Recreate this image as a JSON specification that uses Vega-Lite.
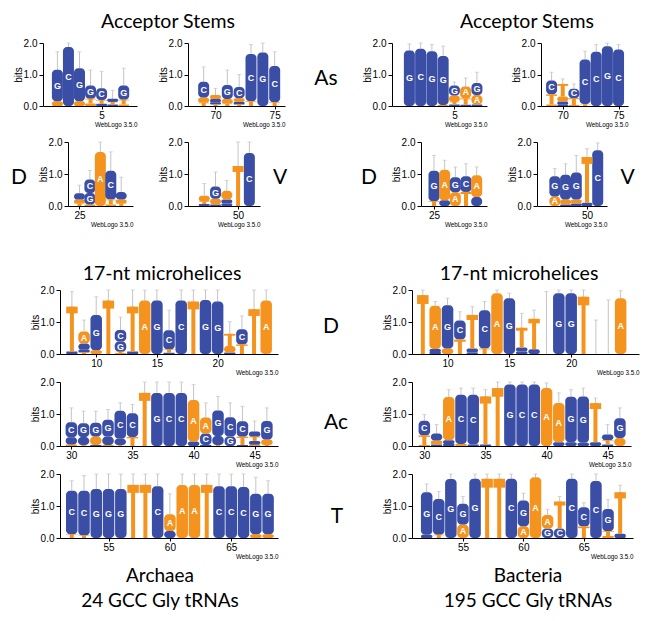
{
"$schema":"https://vega.github.io/schema/vega-lite/v6.json",
"padding":0,
"background":"white",
"spacing":0,
"config":{
 "view":{"stroke":null},
 "axis":{"grid":false,"domainColor":"#000","tickColor":"#000","labelColor":"#000","titleColor":"#000","labelFont":"Liberation Sans","titleFont":"Liberation Sans","labelFontSize":10,"titleFontWeight":"normal","domainWidth":1,"tickWidth":1},
 "axisX":{"tickSize":3,"labelPadding":1,"labelFlush":false,"titleFontSize":6.3,"titleAnchor":"end","titlePadding":1},
 "axisY":{"tickSize":4,"labelPadding":2,"titleFontSize":10,"titlePadding":0}
},
"datasets":{"logo":[
{"p":"aA1","x":1,"b":"A","h":0.15},{"p":"aA1","x":1,"b":"G","h":1.0,"e":1.72},
{"p":"aA1","x":2,"b":"C","h":1.87,"e":2.0},
{"p":"aA1","x":3,"b":"A","h":0.15},{"p":"aA1","x":3,"b":"G","h":1.05,"e":1.72},
{"p":"aA1","x":4,"b":"A","h":0.08},{"p":"aA1","x":4,"b":"T","h":0.15},{"p":"aA1","x":4,"b":"G","h":0.42,"e":1.14},
{"p":"aA1","x":5,"b":"G","h":0.07},{"p":"aA1","x":5,"b":"T","h":0.12},{"p":"aA1","x":5,"b":"C","h":0.37,"e":1.1},
{"p":"aA1","x":6,"b":"G","h":0.05},{"p":"aA1","x":6,"b":"T","h":0.08},{"p":"aA1","x":6,"b":"C","h":0.1,"e":0.5},
{"p":"aA1","x":7,"b":"A","h":0.05},{"p":"aA1","x":7,"b":"T","h":0.15},{"p":"aA1","x":7,"b":"G","h":0.45,"e":1.2},
{"p":"aA2","x":69,"b":"T","h":0.1},{"p":"aA2","x":69,"b":"A","h":0.17},{"p":"aA2","x":69,"b":"C","h":0.5,"e":1.24},
{"p":"aA2","x":70,"b":"T","h":0.05},{"p":"aA2","x":70,"b":"G","h":0.07},{"p":"aA2","x":70,"b":"C","h":0.1},{"p":"aA2","x":70,"b":"A","h":0.13,"e":0.56},
{"p":"aA2","x":71,"b":"T","h":0.07},{"p":"aA2","x":71,"b":"A","h":0.15},{"p":"aA2","x":71,"b":"G","h":0.45,"e":1.14},
{"p":"aA2","x":72,"b":"T","h":0.05},{"p":"aA2","x":72,"b":"G","h":0.08},{"p":"aA2","x":72,"b":"A","h":0.12},{"p":"aA2","x":72,"b":"C","h":0.35,"e":1.0},
{"p":"aA2","x":73,"b":"T","h":0.15},{"p":"aA2","x":73,"b":"C","h":1.5,"e":1.95},
{"p":"aA2","x":74,"b":"G","h":1.7,"e":2.0},
{"p":"aA2","x":75,"b":"T","h":0.12},{"p":"aA2","x":75,"b":"C","h":1.15,"e":1.72},
{"p":"aD","x":25,"b":"T","h":0.08},{"p":"aD","x":25,"b":"A","h":0.12},{"p":"aD","x":25,"b":"G","h":0.2,"e":0.65},
{"p":"aD","x":26,"b":"A","h":0.05},{"p":"aD","x":26,"b":"G","h":0.36},{"p":"aD","x":26,"b":"C","h":0.42,"e":1.11},
{"p":"aD","x":27,"b":"A","h":1.69,"e":2.0},
{"p":"aD","x":28,"b":"A","h":0.05},{"p":"aD","x":28,"b":"T","h":0.15},{"p":"aD","x":28,"b":"C","h":0.9,"e":1.69},
{"p":"aD","x":29,"b":"T","h":0.08},{"p":"aD","x":29,"b":"A","h":0.12},{"p":"aD","x":29,"b":"G","h":0.24,"e":0.9},
{"p":"aV","x":47,"b":"C","h":0.06},{"p":"aV","x":47,"b":"T","h":0.08},{"p":"aV","x":47,"b":"A","h":0.18,"e":0.7},
{"p":"aV","x":48,"b":"C","h":0.05},{"p":"aV","x":48,"b":"A","h":0.18},{"p":"aV","x":48,"b":"G","h":0.38,"e":1.06},
{"p":"aV","x":49,"b":"G","h":0.08},{"p":"aV","x":49,"b":"C","h":0.12},{"p":"aV","x":49,"b":"A","h":0.28,"e":0.8},
{"p":"aV","x":50,"b":"T","h":1.25,"e":2.0},
{"p":"aV","x":51,"b":"C","h":1.66,"e":2.0},
{"p":"bA1","x":1,"b":"G","h":1.76,"e":1.97},
{"p":"bA1","x":2,"b":"C","h":1.82,"e":2.0},
{"p":"bA1","x":3,"b":"G","h":1.74,"e":1.95},
{"p":"bA1","x":4,"b":"A","h":0.03},{"p":"bA1","x":4,"b":"G","h":1.56,"e":1.9},
{"p":"bA1","x":5,"b":"C","h":0.05},{"p":"bA1","x":5,"b":"T","h":0.08},{"p":"bA1","x":5,"b":"A","h":0.2},{"p":"bA1","x":5,"b":"G","h":0.32,"e":0.76},
{"p":"bA1","x":6,"b":"C","h":0.04},{"p":"bA1","x":6,"b":"T","h":0.2},{"p":"bA1","x":6,"b":"A","h":0.38,"e":0.89},
{"p":"bA1","x":7,"b":"C","h":0.05},{"p":"bA1","x":7,"b":"A","h":0.3},{"p":"bA1","x":7,"b":"G","h":0.38,"e":1.07},
{"p":"bA2","x":69,"b":"A","h":0.05},{"p":"bA2","x":69,"b":"T","h":0.32},{"p":"bA2","x":69,"b":"C","h":0.44,"e":1.07},
{"p":"bA2","x":70,"b":"C","h":0.04},{"p":"bA2","x":70,"b":"G","h":0.1},{"p":"bA2","x":70,"b":"A","h":0.16},{"p":"bA2","x":70,"b":"T","h":0.4,"e":0.86},
{"p":"bA2","x":71,"b":"A","h":0.03},{"p":"bA2","x":71,"b":"T","h":0.22},{"p":"bA2","x":71,"b":"C","h":0.3,"e":0.7},
{"p":"bA2","x":72,"b":"T","h":0.06},{"p":"bA2","x":72,"b":"C","h":1.42,"e":1.74},
{"p":"bA2","x":73,"b":"C","h":1.72,"e":1.95},
{"p":"bA2","x":74,"b":"G","h":1.9,"e":2.0},
{"p":"bA2","x":75,"b":"C","h":1.79,"e":1.95},
{"p":"bD","x":25,"b":"T","h":0.15},{"p":"bD","x":25,"b":"G","h":0.95,"e":1.58},
{"p":"bD","x":26,"b":"C","h":0.18},{"p":"bD","x":26,"b":"A","h":0.95,"e":1.43},
{"p":"bD","x":27,"b":"A","h":0.43},{"p":"bD","x":27,"b":"G","h":0.47,"e":1.22},
{"p":"bD","x":28,"b":"T","h":0.44},{"p":"bD","x":28,"b":"C","h":0.49,"e":1.32},
{"p":"bD","x":29,"b":"G","h":0.28},{"p":"bD","x":29,"b":"A","h":0.68,"e":1.22},
{"p":"bV","x":47,"b":"A","h":0.3},{"p":"bV","x":47,"b":"G","h":0.63,"e":1.17},
{"p":"bV","x":48,"b":"C","h":0.05},{"p":"bV","x":48,"b":"A","h":0.15},{"p":"bV","x":48,"b":"G","h":0.78,"e":1.32},
{"p":"bV","x":49,"b":"C","h":0.08},{"p":"bV","x":49,"b":"A","h":0.12},{"p":"bV","x":49,"b":"G","h":0.85,"e":1.58},
{"p":"bV","x":50,"b":"G","h":0.1},{"p":"bV","x":50,"b":"T","h":1.43,"e":1.79},
{"p":"bV","x":51,"b":"C","h":1.74,"e":1.97},
{"p":"aMD","x":8,"b":"C","h":0.03},{"p":"aMD","x":8,"b":"G","h":0.05},{"p":"aMD","x":8,"b":"T","h":1.4,"e":1.95},
{"p":"aMD","x":9,"b":"T","h":0.05},{"p":"aMD","x":9,"b":"C","h":0.08},{"p":"aMD","x":9,"b":"G","h":0.2},{"p":"aMD","x":9,"b":"A","h":0.37,"e":1.06},
{"p":"aMD","x":10,"b":"A","h":0.12},{"p":"aMD","x":10,"b":"G","h":1.1,"e":1.79},
{"p":"aMD","x":11,"b":"T","h":1.67,"e":2.0},
{"p":"aMD","x":12,"b":"A","h":0.03},{"p":"aMD","x":12,"b":"T","h":0.04},{"p":"aMD","x":12,"b":"G","h":0.32},{"p":"aMD","x":12,"b":"C","h":0.36,"e":1.15},
{"p":"aMD","x":13,"b":"G","h":0.03},{"p":"aMD","x":13,"b":"C","h":0.05},{"p":"aMD","x":13,"b":"T","h":1.4,"e":2.0},
{"p":"aMD","x":14,"b":"A","h":1.67,"e":2.0},
{"p":"aMD","x":15,"b":"G","h":1.67,"e":2.0},
{"p":"aMD","x":16,"b":"G","h":0.04},{"p":"aMD","x":16,"b":"T","h":0.1},{"p":"aMD","x":16,"b":"C","h":0.6,"e":1.37},
{"p":"aMD","x":17,"b":"C","h":1.67,"e":2.0},
{"p":"aMD","x":18,"b":"T","h":1.64,"e":2.0},
{"p":"aMD","x":19,"b":"G","h":1.69,"e":2.0},
{"p":"aMD","x":20,"b":"G","h":1.64,"e":2.0},
{"p":"aMD","x":21,"b":"C","h":0.05},{"p":"aMD","x":21,"b":"A","h":0.2},{"p":"aMD","x":21,"b":"T","h":0.38,"e":1.01},
{"p":"aMD","x":22,"b":"T","h":0.3},{"p":"aMD","x":22,"b":"C","h":0.47,"e":1.19},
{"p":"aMD","x":23,"b":"T","h":1.4,"e":2.0},
{"p":"aMD","x":24,"b":"A","h":1.67,"e":2.0},
{"p":"bMD","x":8,"b":"T","h":1.84,"e":2.0},
{"p":"bMD","x":9,"b":"G","h":0.06},{"p":"bMD","x":9,"b":"C","h":0.1},{"p":"bMD","x":9,"b":"A","h":1.35,"e":1.64},
{"p":"bMD","x":10,"b":"A","h":0.17},{"p":"bMD","x":10,"b":"G","h":1.35,"e":1.74},
{"p":"bMD","x":11,"b":"T","h":0.45},{"p":"bMD","x":11,"b":"C","h":0.6,"e":1.32},
{"p":"bMD","x":12,"b":"C","h":0.05},{"p":"bMD","x":12,"b":"G","h":0.12},{"p":"bMD","x":12,"b":"T","h":1.05,"e":1.48},
{"p":"bMD","x":13,"b":"T","h":0.17},{"p":"bMD","x":13,"b":"C","h":1.2,"e":1.64},
{"p":"bMD","x":14,"b":"A","h":1.9,"e":2.0},
{"p":"bMD","x":15,"b":"G","h":1.74,"e":1.9},
{"p":"bMD","x":16,"b":"G","h":0.08},{"p":"bMD","x":16,"b":"C","h":0.12},{"p":"bMD","x":16,"b":"T","h":0.62,"e":1.27},
{"p":"bMD","x":17,"b":"C","h":0.15},{"p":"bMD","x":17,"b":"T","h":0.95,"e":1.37},
{"p":"bMD","x":18,"b":"T","h":0.0,"e":1.95},
{"p":"bMD","x":19,"b":"G","h":1.9,"e":2.0},
{"p":"bMD","x":20,"b":"G","h":1.9,"e":2.0},
{"p":"bMD","x":21,"b":"T","h":1.79,"e":2.0},
{"p":"bMD","x":22,"b":"T","h":0.0,"e":1.06},
{"p":"bMD","x":23,"b":"T","h":0.0,"e":1.69},
{"p":"bMD","x":24,"b":"A","h":1.74,"e":1.98},
{"p":"aMA","x":30,"b":"A","h":0.05},{"p":"aMA","x":30,"b":"G","h":0.22},{"p":"aMA","x":30,"b":"C","h":0.47,"e":1.19},
{"p":"aMA","x":31,"b":"T","h":0.03},{"p":"aMA","x":31,"b":"C","h":0.25},{"p":"aMA","x":31,"b":"G","h":0.43,"e":1.09},
{"p":"aMA","x":32,"b":"C","h":0.03},{"p":"aMA","x":32,"b":"A","h":0.27},{"p":"aMA","x":32,"b":"G","h":0.43,"e":1.09},
{"p":"aMA","x":33,"b":"A","h":0.03},{"p":"aMA","x":33,"b":"C","h":0.27},{"p":"aMA","x":33,"b":"G","h":0.52,"e":1.14},
{"p":"aMA","x":34,"b":"T","h":0.03},{"p":"aMA","x":34,"b":"G","h":0.2},{"p":"aMA","x":34,"b":"C","h":0.87,"e":1.35},
{"p":"aMA","x":35,"b":"T","h":0.28},{"p":"aMA","x":35,"b":"C","h":0.74,"e":1.3},
{"p":"aMA","x":36,"b":"T","h":1.66,"e":2.0},
{"p":"aMA","x":37,"b":"G","h":1.66,"e":2.0},
{"p":"aMA","x":38,"b":"C","h":1.66,"e":2.0},
{"p":"aMA","x":39,"b":"C","h":1.66,"e":2.0},
{"p":"aMA","x":40,"b":"G","h":0.14},{"p":"aMA","x":40,"b":"A","h":1.3,"e":1.92},
{"p":"aMA","x":41,"b":"G","h":0.03},{"p":"aMA","x":41,"b":"C","h":0.36},{"p":"aMA","x":41,"b":"A","h":0.5,"e":1.35},
{"p":"aMA","x":42,"b":"T","h":0.03},{"p":"aMA","x":42,"b":"C","h":0.28},{"p":"aMA","x":42,"b":"G","h":0.8,"e":1.55},
{"p":"aMA","x":43,"b":"G","h":0.3},{"p":"aMA","x":43,"b":"C","h":0.6,"e":1.35},
{"p":"aMA","x":44,"b":"G","h":0.03},{"p":"aMA","x":44,"b":"T","h":0.26},{"p":"aMA","x":44,"b":"C","h":0.48,"e":1.24},
{"p":"aMA","x":45,"b":"A","h":0.04},{"p":"aMA","x":45,"b":"G","h":0.12},{"p":"aMA","x":45,"b":"T","h":0.13},{"p":"aMA","x":45,"b":"C","h":0.16,"e":0.78},
{"p":"aMA","x":46,"b":"T","h":0.03},{"p":"aMA","x":46,"b":"A","h":0.17},{"p":"aMA","x":46,"b":"G","h":0.58,"e":1.19},
{"p":"bMA","x":30,"b":"A","h":0.03},{"p":"bMA","x":30,"b":"T","h":0.3},{"p":"bMA","x":30,"b":"C","h":0.46,"e":0.98},
{"p":"bMA","x":31,"b":"G","h":0.05},{"p":"bMA","x":31,"b":"A","h":0.12},{"p":"bMA","x":31,"b":"C","h":0.22,"e":0.67},
{"p":"bMA","x":32,"b":"G","h":0.06},{"p":"bMA","x":32,"b":"C","h":0.12},{"p":"bMA","x":32,"b":"A","h":1.35,"e":1.76},
{"p":"bMA","x":33,"b":"A","h":0.06},{"p":"bMA","x":33,"b":"C","h":1.54,"e":1.81},
{"p":"bMA","x":34,"b":"G","h":0.05},{"p":"bMA","x":34,"b":"C","h":1.55,"e":1.81},
{"p":"bMA","x":35,"b":"C","h":0.05},{"p":"bMA","x":35,"b":"T","h":1.5,"e":1.76},
{"p":"bMA","x":36,"b":"T","h":1.81,"e":2.0},
{"p":"bMA","x":37,"b":"G","h":1.92,"e":2.0},
{"p":"bMA","x":38,"b":"C","h":1.92,"e":2.0},
{"p":"bMA","x":39,"b":"C","h":1.92,"e":2.0},
{"p":"bMA","x":40,"b":"A","h":1.81,"e":1.97},
{"p":"bMA","x":41,"b":"C","h":0.12},{"p":"bMA","x":41,"b":"A","h":1.22,"e":1.66},
{"p":"bMA","x":42,"b":"C","h":0.12},{"p":"bMA","x":42,"b":"G","h":1.42,"e":1.76},
{"p":"bMA","x":43,"b":"C","h":0.1},{"p":"bMA","x":43,"b":"G","h":1.45,"e":1.81},
{"p":"bMA","x":44,"b":"C","h":0.12},{"p":"bMA","x":44,"b":"T","h":1.22,"e":1.5},
{"p":"bMA","x":45,"b":"G","h":0.05},{"p":"bMA","x":45,"b":"T","h":0.13},{"p":"bMA","x":45,"b":"C","h":0.18,"e":0.67},
{"p":"bMA","x":46,"b":"A","h":0.25},{"p":"bMA","x":46,"b":"G","h":0.62,"e":1.19},
{"p":"aMT","x":52,"b":"T","h":0.12},{"p":"aMT","x":52,"b":"C","h":1.36,"e":1.79},
{"p":"aMT","x":53,"b":"T","h":0.08},{"p":"aMT","x":53,"b":"C","h":1.4,"e":1.95},
{"p":"aMT","x":54,"b":"G","h":1.53,"e":2.0},
{"p":"aMT","x":55,"b":"G","h":1.53,"e":2.0},
{"p":"aMT","x":56,"b":"G","h":1.53,"e":2.0},
{"p":"aMT","x":57,"b":"T","h":1.66,"e":2.0},
{"p":"aMT","x":58,"b":"T","h":1.66,"e":2.0},
{"p":"aMT","x":59,"b":"C","h":1.62,"e":2.0},
{"p":"aMT","x":60,"b":"G","h":0.22},{"p":"aMT","x":60,"b":"A","h":0.52,"e":1.38},
{"p":"aMT","x":61,"b":"A","h":1.66,"e":2.0},
{"p":"aMT","x":62,"b":"A","h":1.66,"e":2.0},
{"p":"aMT","x":63,"b":"T","h":1.66,"e":2.0},
{"p":"aMT","x":64,"b":"C","h":1.62,"e":2.0},
{"p":"aMT","x":65,"b":"C","h":1.62,"e":2.0},
{"p":"aMT","x":66,"b":"C","h":1.59,"e":2.0},
{"p":"aMT","x":67,"b":"A","h":0.12},{"p":"aMT","x":67,"b":"G","h":1.26,"e":1.9},
{"p":"aMT","x":68,"b":"A","h":0.12},{"p":"aMT","x":68,"b":"G","h":1.26,"e":1.79},
{"p":"bMT","x":52,"b":"C","h":0.1},{"p":"bMT","x":52,"b":"G","h":1.33,"e":1.69},
{"p":"bMT","x":53,"b":"T","h":0.1},{"p":"bMT","x":53,"b":"C","h":1.12,"e":1.45},
{"p":"bMT","x":54,"b":"G","h":1.84,"e":2.0},
{"p":"bMT","x":55,"b":"A","h":0.42},{"p":"bMT","x":55,"b":"G","h":0.65,"e":1.3},
{"p":"bMT","x":56,"b":"G","h":1.85,"e":2.0},
{"p":"bMT","x":57,"b":"T","h":1.85,"e":2.0},
{"p":"bMT","x":58,"b":"T","h":1.85,"e":2.0},
{"p":"bMT","x":59,"b":"C","h":1.85,"e":2.0},
{"p":"bMT","x":60,"b":"A","h":0.37},{"p":"bMT","x":60,"b":"G","h":0.8,"e":1.4},
{"p":"bMT","x":61,"b":"A","h":1.9,"e":2.0},
{"p":"bMT","x":62,"b":"G","h":0.3},{"p":"bMT","x":62,"b":"A","h":0.42,"e":0.9},
{"p":"bMT","x":63,"b":"C","h":0.3},{"p":"bMT","x":63,"b":"T","h":0.84,"e":1.3},
{"p":"bMT","x":64,"b":"C","h":1.85,"e":2.0},
{"p":"bMT","x":65,"b":"T","h":0.36},{"p":"bMT","x":65,"b":"C","h":0.6,"e":1.1},
{"p":"bMT","x":66,"b":"C","h":1.78,"e":2.0},
{"p":"bMT","x":67,"b":"A","h":0.06},{"p":"bMT","x":67,"b":"T","h":0.15},{"p":"bMT","x":67,"b":"G","h":0.7,"e":1.2},
{"p":"bMT","x":68,"b":"G","h":0.13},{"p":"bMT","x":68,"b":"T","h":1.3,"e":1.65}
]},
"vconcat":[
{"spacing":0,"bounds":"flush","hconcat":[
 {"width":336,"height":31,"data":{"values":[{"t":"Acceptor Stems"}]},"mark":{"type":"text","font":"Lato","fontSize":19.5,"dy":0.5},"encoding":{"text":{"field":"t"}}},
 {"width":70,"height":1,"data":{"values":[{}]},"mark":"text","encoding":{"text":{"value":""}}},
 {"width":242,"height":31,"data":{"values":[{"t":"Acceptor Stems"}]},"mark":{"type":"text","font":"Lato","fontSize":19.5,"dy":0.5},"encoding":{"text":{"field":"t"}}}
]},
{"spacing":0,"bounds":"flush","hconcat":[
 {"width":43,"height":93,"data":{"values":[{}]},"mark":"text","encoding":{"text":{"value":""}}},
 {"width":94,"height":63,"data":{"name":"logo"},
  "transform":[{"filter":"datum.p==='aA1'"},{"stack":"h","groupby":["x"],"sort":[{"field":"h","order":"ascending"}],"as":["y0","y1"]},{"calculate":"(datum.y0+datum.y1)/2","as":"ym"},{"calculate":"datum.y1-0.15*(datum.y1-datum.y0)","as":"tb"}],
  "encoding":{"x":{"field":"x","type":"quantitative","scale":{"domain":[0.15,7.75],"nice":false,"zero":false},"axis":{"values":[5],"format":"d","title":"WebLogo 3.5.0"}}},
  "layer":[
   {"transform":[{"filter":"isValid(datum.e)"}],"mark":{"type":"rule","color":"#c4c4c4"},"encoding":{"y":{"field":"y1","type":"quantitative","scale":{"domain":[0,2],"nice":false},"axis":{"values":[0,1,2],"format":".1f","title":"bits"}},"y2":{"field":"e"}}},
   {"transform":[{"filter":"isValid(datum.e)"}],"mark":{"type":"tick","orient":"horizontal","color":"#c4c4c4","size":4,"thickness":1},"encoding":{"y":{"field":"e","type":"quantitative","scale":{"domain":[0,2],"nice":false},"axis":{"values":[0,1,2],"format":".1f","title":"bits"}}}},
   {"transform":[{"filter":"datum.b!=='T'"}],"mark":{"type":"bar","size":11,"cornerRadius":4},"encoding":{"y":{"field":"y0","type":"quantitative","scale":{"domain":[0,2],"nice":false},"axis":{"values":[0,1,2],"format":".1f","title":"bits"}},"y2":{"field":"y1"},"color":{"field":"b","type":"nominal","scale":{"domain":["A","C","G"],"range":["#f4941f","#3a4ea6","#3a4ea6"]},"legend":null}}},
   {"transform":[{"filter":"datum.b==='T'"}],"mark":{"type":"bar","size":4,"color":"#f4941f"},"encoding":{"y":{"field":"y0","type":"quantitative","scale":{"domain":[0,2],"nice":false},"axis":{"values":[0,1,2],"format":".1f","title":"bits"}},"y2":{"field":"y1"}}},
   {"transform":[{"filter":"datum.b==='T'"}],"mark":{"type":"bar","size":11,"color":"#f4941f"},"encoding":{"y":{"field":"tb","type":"quantitative","scale":{"domain":[0,2],"nice":false},"axis":{"values":[0,1,2],"format":".1f","title":"bits"}},"y2":{"field":"y1"}}},
   {"transform":[{"filter":"datum.h>=0.3 && datum.b!=='T'"}],"mark":{"type":"text","color":"white","fontSize":9,"fontWeight":"bold","font":"Liberation Sans"},"encoding":{"y":{"field":"ym","type":"quantitative","scale":{"domain":[0,2],"nice":false},"axis":{"values":[0,1,2],"format":".1f","title":"bits"}},"text":{"field":"b"}}}
  ]},
 {"width":51,"height":1,"data":{"values":[{}]},"mark":"text","encoding":{"text":{"value":""}}},
 {"width":97,"height":63,"data":{"name":"logo"},
  "transform":[{"filter":"datum.p==='aA2'"},{"stack":"h","groupby":["x"],"sort":[{"field":"h","order":"ascending"}],"as":["y0","y1"]},{"calculate":"(datum.y0+datum.y1)/2","as":"ym"},{"calculate":"datum.y1-0.15*(datum.y1-datum.y0)","as":"tb"}],
  "encoding":{"x":{"field":"x","type":"quantitative","scale":{"domain":[68.1,75.45],"nice":false,"zero":false},"axis":{"values":[70,75],"format":"d","title":"WebLogo 3.5.0"}}},
  "layer":[
   {"transform":[{"filter":"isValid(datum.e)"}],"mark":{"type":"rule","color":"#c4c4c4"},"encoding":{"y":{"field":"y1","type":"quantitative","scale":{"domain":[0,2],"nice":false},"axis":{"values":[0,1,2],"format":".1f","title":"bits"}},"y2":{"field":"e"}}},
   {"transform":[{"filter":"isValid(datum.e)"}],"mark":{"type":"tick","orient":"horizontal","color":"#c4c4c4","size":4,"thickness":1},"encoding":{"y":{"field":"e","type":"quantitative","scale":{"domain":[0,2],"nice":false},"axis":{"values":[0,1,2],"format":".1f","title":"bits"}}}},
   {"transform":[{"filter":"datum.b!=='T'"}],"mark":{"type":"bar","size":11,"cornerRadius":4},"encoding":{"y":{"field":"y0","type":"quantitative","scale":{"domain":[0,2],"nice":false},"axis":{"values":[0,1,2],"format":".1f","title":"bits"}},"y2":{"field":"y1"},"color":{"field":"b","type":"nominal","scale":{"domain":["A","C","G"],"range":["#f4941f","#3a4ea6","#3a4ea6"]},"legend":null}}},
   {"transform":[{"filter":"datum.b==='T'"}],"mark":{"type":"bar","size":4,"color":"#f4941f"},"encoding":{"y":{"field":"y0","type":"quantitative","scale":{"domain":[0,2],"nice":false},"axis":{"values":[0,1,2],"format":".1f","title":"bits"}},"y2":{"field":"y1"}}},
   {"transform":[{"filter":"datum.b==='T'"}],"mark":{"type":"bar","size":11,"color":"#f4941f"},"encoding":{"y":{"field":"tb","type":"quantitative","scale":{"domain":[0,2],"nice":false},"axis":{"values":[0,1,2],"format":".1f","title":"bits"}},"y2":{"field":"y1"}}},
   {"transform":[{"filter":"datum.h>=0.3 && datum.b!=='T'"}],"mark":{"type":"text","color":"white","fontSize":9,"fontWeight":"bold","font":"Liberation Sans"},"encoding":{"y":{"field":"ym","type":"quantitative","scale":{"domain":[0,2],"nice":false},"axis":{"values":[0,1,2],"format":".1f","title":"bits"}},"text":{"field":"b"}}}
  ]},
 {"width":82,"height":63,"data":{"values":[{"t":"As"}]},"mark":{"type":"text","font":"Lato","fontSize":21,"dy":4.5},"encoding":{"text":{"field":"t"}}},
 {"width":25,"height":1,"data":{"values":[{}]},"mark":"text","encoding":{"text":{"value":""}}},
 {"width":95,"height":63,"data":{"name":"logo"},
  "transform":[{"filter":"datum.p==='bA1'"},{"stack":"h","groupby":["x"],"sort":[{"field":"h","order":"ascending"}],"as":["y0","y1"]},{"calculate":"(datum.y0+datum.y1)/2","as":"ym"},{"calculate":"datum.y1-0.15*(datum.y1-datum.y0)","as":"tb"}],
  "encoding":{"x":{"field":"x","type":"quantitative","scale":{"domain":[-0.1,7.45],"nice":false,"zero":false},"axis":{"values":[5],"format":"d","title":"WebLogo 3.5.0"}}},
  "layer":[
   {"transform":[{"filter":"isValid(datum.e)"}],"mark":{"type":"rule","color":"#c4c4c4"},"encoding":{"y":{"field":"y1","type":"quantitative","scale":{"domain":[0,2],"nice":false},"axis":{"values":[0,1,2],"format":".1f","title":"bits"}},"y2":{"field":"e"}}},
   {"transform":[{"filter":"isValid(datum.e)"}],"mark":{"type":"tick","orient":"horizontal","color":"#c4c4c4","size":4,"thickness":1},"encoding":{"y":{"field":"e","type":"quantitative","scale":{"domain":[0,2],"nice":false},"axis":{"values":[0,1,2],"format":".1f","title":"bits"}}}},
   {"transform":[{"filter":"datum.b!=='T'"}],"mark":{"type":"bar","size":11,"cornerRadius":4},"encoding":{"y":{"field":"y0","type":"quantitative","scale":{"domain":[0,2],"nice":false},"axis":{"values":[0,1,2],"format":".1f","title":"bits"}},"y2":{"field":"y1"},"color":{"field":"b","type":"nominal","scale":{"domain":["A","C","G"],"range":["#f4941f","#3a4ea6","#3a4ea6"]},"legend":null}}},
   {"transform":[{"filter":"datum.b==='T'"}],"mark":{"type":"bar","size":4,"color":"#f4941f"},"encoding":{"y":{"field":"y0","type":"quantitative","scale":{"domain":[0,2],"nice":false},"axis":{"values":[0,1,2],"format":".1f","title":"bits"}},"y2":{"field":"y1"}}},
   {"transform":[{"filter":"datum.b==='T'"}],"mark":{"type":"bar","size":11,"color":"#f4941f"},"encoding":{"y":{"field":"tb","type":"quantitative","scale":{"domain":[0,2],"nice":false},"axis":{"values":[0,1,2],"format":".1f","title":"bits"}},"y2":{"field":"y1"}}},
   {"transform":[{"filter":"datum.h>=0.3 && datum.b!=='T'"}],"mark":{"type":"text","color":"white","fontSize":9,"fontWeight":"bold","font":"Liberation Sans"},"encoding":{"y":{"field":"ym","type":"quantitative","scale":{"domain":[0,2],"nice":false},"axis":{"values":[0,1,2],"format":".1f","title":"bits"}},"text":{"field":"b"}}}
  ]},
 {"width":54,"height":1,"data":{"values":[{}]},"mark":"text","encoding":{"text":{"value":""}}},
 {"width":87,"height":63,"data":{"name":"logo"},
  "transform":[{"filter":"datum.p==='bA2'"},{"stack":"h","groupby":["x"],"sort":[{"field":"h","order":"ascending"}],"as":["y0","y1"]},{"calculate":"(datum.y0+datum.y1)/2","as":"ym"},{"calculate":"datum.y1-0.15*(datum.y1-datum.y0)","as":"tb"}],
  "encoding":{"x":{"field":"x","type":"quantitative","scale":{"domain":[68.5,75.4],"nice":false,"zero":false},"axis":{"values":[70,75],"format":"d","title":"WebLogo 3.5.0"}}},
  "layer":[
   {"transform":[{"filter":"isValid(datum.e)"}],"mark":{"type":"rule","color":"#c4c4c4"},"encoding":{"y":{"field":"y1","type":"quantitative","scale":{"domain":[0,2],"nice":false},"axis":{"values":[0,1,2],"format":".1f","title":"bits"}},"y2":{"field":"e"}}},
   {"transform":[{"filter":"isValid(datum.e)"}],"mark":{"type":"tick","orient":"horizontal","color":"#c4c4c4","size":4,"thickness":1},"encoding":{"y":{"field":"e","type":"quantitative","scale":{"domain":[0,2],"nice":false},"axis":{"values":[0,1,2],"format":".1f","title":"bits"}}}},
   {"transform":[{"filter":"datum.b!=='T'"}],"mark":{"type":"bar","size":11,"cornerRadius":4},"encoding":{"y":{"field":"y0","type":"quantitative","scale":{"domain":[0,2],"nice":false},"axis":{"values":[0,1,2],"format":".1f","title":"bits"}},"y2":{"field":"y1"},"color":{"field":"b","type":"nominal","scale":{"domain":["A","C","G"],"range":["#f4941f","#3a4ea6","#3a4ea6"]},"legend":null}}},
   {"transform":[{"filter":"datum.b==='T'"}],"mark":{"type":"bar","size":4,"color":"#f4941f"},"encoding":{"y":{"field":"y0","type":"quantitative","scale":{"domain":[0,2],"nice":false},"axis":{"values":[0,1,2],"format":".1f","title":"bits"}},"y2":{"field":"y1"}}},
   {"transform":[{"filter":"datum.b==='T'"}],"mark":{"type":"bar","size":11,"color":"#f4941f"},"encoding":{"y":{"field":"tb","type":"quantitative","scale":{"domain":[0,2],"nice":false},"axis":{"values":[0,1,2],"format":".1f","title":"bits"}},"y2":{"field":"y1"}}},
   {"transform":[{"filter":"datum.h>=0.3 && datum.b!=='T'"}],"mark":{"type":"text","color":"white","fontSize":9,"fontWeight":"bold","font":"Liberation Sans"},"encoding":{"y":{"field":"ym","type":"quantitative","scale":{"domain":[0,2],"nice":false},"axis":{"values":[0,1,2],"format":".1f","title":"bits"}},"text":{"field":"b"}}}
  ]}
]},
{"spacing":0,"bounds":"flush","hconcat":[
 {"width":38,"height":64,"data":{"values":[{"t":"D"}]},"mark":{"type":"text","font":"Lato","fontSize":21,"dy":3.5},"encoding":{"text":{"field":"t"}}},
 {"width":30,"height":107,"data":{"values":[{}]},"mark":"text","encoding":{"text":{"value":""}}},
 {"width":65,"height":64,"data":{"name":"logo"},
  "transform":[{"filter":"datum.p==='aD'"},{"stack":"h","groupby":["x"],"sort":[{"field":"h","order":"ascending"}],"as":["y0","y1"]},{"calculate":"(datum.y0+datum.y1)/2","as":"ym"},{"calculate":"datum.y1-0.15*(datum.y1-datum.y0)","as":"tb"}],
  "encoding":{"x":{"field":"x","type":"quantitative","scale":{"domain":[24.38,29.65],"nice":false,"zero":false},"axis":{"values":[25],"format":"d","title":"WebLogo 3.5.0"}}},
  "layer":[
   {"transform":[{"filter":"isValid(datum.e)"}],"mark":{"type":"rule","color":"#c4c4c4"},"encoding":{"y":{"field":"y1","type":"quantitative","scale":{"domain":[0,2],"nice":false},"axis":{"values":[0,1,2],"format":".1f","title":"bits"}},"y2":{"field":"e"}}},
   {"transform":[{"filter":"isValid(datum.e)"}],"mark":{"type":"tick","orient":"horizontal","color":"#c4c4c4","size":4,"thickness":1},"encoding":{"y":{"field":"e","type":"quantitative","scale":{"domain":[0,2],"nice":false},"axis":{"values":[0,1,2],"format":".1f","title":"bits"}}}},
   {"transform":[{"filter":"datum.b!=='T'"}],"mark":{"type":"bar","size":11,"cornerRadius":4},"encoding":{"y":{"field":"y0","type":"quantitative","scale":{"domain":[0,2],"nice":false},"axis":{"values":[0,1,2],"format":".1f","title":"bits"}},"y2":{"field":"y1"},"color":{"field":"b","type":"nominal","scale":{"domain":["A","C","G"],"range":["#f4941f","#3a4ea6","#3a4ea6"]},"legend":null}}},
   {"transform":[{"filter":"datum.b==='T'"}],"mark":{"type":"bar","size":4,"color":"#f4941f"},"encoding":{"y":{"field":"y0","type":"quantitative","scale":{"domain":[0,2],"nice":false},"axis":{"values":[0,1,2],"format":".1f","title":"bits"}},"y2":{"field":"y1"}}},
   {"transform":[{"filter":"datum.b==='T'"}],"mark":{"type":"bar","size":11,"color":"#f4941f"},"encoding":{"y":{"field":"tb","type":"quantitative","scale":{"domain":[0,2],"nice":false},"axis":{"values":[0,1,2],"format":".1f","title":"bits"}},"y2":{"field":"y1"}}},
   {"transform":[{"filter":"datum.h>=0.3 && datum.b!=='T'"}],"mark":{"type":"text","color":"white","fontSize":9,"fontWeight":"bold","font":"Liberation Sans"},"encoding":{"y":{"field":"ym","type":"quantitative","scale":{"domain":[0,2],"nice":false},"axis":{"values":[0,1,2],"format":".1f","title":"bits"}},"text":{"field":"b"}}}
  ]},
 {"width":55,"height":1,"data":{"values":[{}]},"mark":"text","encoding":{"text":{"value":""}}},
 {"width":72,"height":64,"data":{"name":"logo"},
  "transform":[{"filter":"datum.p==='aV'"},{"stack":"h","groupby":["x"],"sort":[{"field":"h","order":"ascending"}],"as":["y0","y1"]},{"calculate":"(datum.y0+datum.y1)/2","as":"ym"},{"calculate":"datum.y1-0.15*(datum.y1-datum.y0)","as":"tb"}],
  "encoding":{"x":{"field":"x","type":"quantitative","scale":{"domain":[46.0,51.5],"nice":false,"zero":false},"axis":{"values":[50],"format":"d","title":"WebLogo 3.5.0"}}},
  "layer":[
   {"transform":[{"filter":"isValid(datum.e)"}],"mark":{"type":"rule","color":"#c4c4c4"},"encoding":{"y":{"field":"y1","type":"quantitative","scale":{"domain":[0,2],"nice":false},"axis":{"values":[0,1,2],"format":".1f","title":"bits"}},"y2":{"field":"e"}}},
   {"transform":[{"filter":"isValid(datum.e)"}],"mark":{"type":"tick","orient":"horizontal","color":"#c4c4c4","size":4,"thickness":1},"encoding":{"y":{"field":"e","type":"quantitative","scale":{"domain":[0,2],"nice":false},"axis":{"values":[0,1,2],"format":".1f","title":"bits"}}}},
   {"transform":[{"filter":"datum.b!=='T'"}],"mark":{"type":"bar","size":11,"cornerRadius":4},"encoding":{"y":{"field":"y0","type":"quantitative","scale":{"domain":[0,2],"nice":false},"axis":{"values":[0,1,2],"format":".1f","title":"bits"}},"y2":{"field":"y1"},"color":{"field":"b","type":"nominal","scale":{"domain":["A","C","G"],"range":["#f4941f","#3a4ea6","#3a4ea6"]},"legend":null}}},
   {"transform":[{"filter":"datum.b==='T'"}],"mark":{"type":"bar","size":4,"color":"#f4941f"},"encoding":{"y":{"field":"y0","type":"quantitative","scale":{"domain":[0,2],"nice":false},"axis":{"values":[0,1,2],"format":".1f","title":"bits"}},"y2":{"field":"y1"}}},
   {"transform":[{"filter":"datum.b==='T'"}],"mark":{"type":"bar","size":11,"color":"#f4941f"},"encoding":{"y":{"field":"tb","type":"quantitative","scale":{"domain":[0,2],"nice":false},"axis":{"values":[0,1,2],"format":".1f","title":"bits"}},"y2":{"field":"y1"}}},
   {"transform":[{"filter":"datum.h>=0.3 && datum.b!=='T'"}],"mark":{"type":"text","color":"white","fontSize":9,"fontWeight":"bold","font":"Liberation Sans"},"encoding":{"y":{"field":"ym","type":"quantitative","scale":{"domain":[0,2],"nice":false},"axis":{"values":[0,1,2],"format":".1f","title":"bits"}},"text":{"field":"b"}}}
  ]},
 {"width":40,"height":64,"data":{"values":[{"t":"V"}]},"mark":{"type":"text","font":"Lato","fontSize":21,"dy":3.5},"encoding":{"text":{"field":"t"}}},
 {"width":49,"height":1,"data":{"values":[{}]},"mark":"text","encoding":{"text":{"value":""}}},
 {"width":40,"height":64,"data":{"values":[{"t":"D"}]},"mark":{"type":"text","font":"Lato","fontSize":21,"dy":3.5},"encoding":{"text":{"field":"t"}}},
 {"width":32,"height":1,"data":{"values":[{}]},"mark":"text","encoding":{"text":{"value":""}}},
 {"width":66,"height":64,"data":{"name":"logo"},
  "transform":[{"filter":"datum.p==='bD'"},{"stack":"h","groupby":["x"],"sort":[{"field":"h","order":"ascending"}],"as":["y0","y1"]},{"calculate":"(datum.y0+datum.y1)/2","as":"ym"},{"calculate":"datum.y1-0.15*(datum.y1-datum.y0)","as":"tb"}],
  "encoding":{"x":{"field":"x","type":"quantitative","scale":{"domain":[24.25,29.5],"nice":false,"zero":false},"axis":{"values":[25],"format":"d","title":"WebLogo 3.5.0"}}},
  "layer":[
   {"transform":[{"filter":"isValid(datum.e)"}],"mark":{"type":"rule","color":"#c4c4c4"},"encoding":{"y":{"field":"y1","type":"quantitative","scale":{"domain":[0,2],"nice":false},"axis":{"values":[0,1,2],"format":".1f","title":"bits"}},"y2":{"field":"e"}}},
   {"transform":[{"filter":"isValid(datum.e)"}],"mark":{"type":"tick","orient":"horizontal","color":"#c4c4c4","size":4,"thickness":1},"encoding":{"y":{"field":"e","type":"quantitative","scale":{"domain":[0,2],"nice":false},"axis":{"values":[0,1,2],"format":".1f","title":"bits"}}}},
   {"transform":[{"filter":"datum.b!=='T'"}],"mark":{"type":"bar","size":11,"cornerRadius":4},"encoding":{"y":{"field":"y0","type":"quantitative","scale":{"domain":[0,2],"nice":false},"axis":{"values":[0,1,2],"format":".1f","title":"bits"}},"y2":{"field":"y1"},"color":{"field":"b","type":"nominal","scale":{"domain":["A","C","G"],"range":["#f4941f","#3a4ea6","#3a4ea6"]},"legend":null}}},
   {"transform":[{"filter":"datum.b==='T'"}],"mark":{"type":"bar","size":4,"color":"#f4941f"},"encoding":{"y":{"field":"y0","type":"quantitative","scale":{"domain":[0,2],"nice":false},"axis":{"values":[0,1,2],"format":".1f","title":"bits"}},"y2":{"field":"y1"}}},
   {"transform":[{"filter":"datum.b==='T'"}],"mark":{"type":"bar","size":11,"color":"#f4941f"},"encoding":{"y":{"field":"tb","type":"quantitative","scale":{"domain":[0,2],"nice":false},"axis":{"values":[0,1,2],"format":".1f","title":"bits"}},"y2":{"field":"y1"}}},
   {"transform":[{"filter":"datum.h>=0.3 && datum.b!=='T'"}],"mark":{"type":"text","color":"white","fontSize":9,"fontWeight":"bold","font":"Liberation Sans"},"encoding":{"y":{"field":"ym","type":"quantitative","scale":{"domain":[0,2],"nice":false},"axis":{"values":[0,1,2],"format":".1f","title":"bits"}},"text":{"field":"b"}}}
  ]},
 {"width":50,"height":1,"data":{"values":[{}]},"mark":"text","encoding":{"text":{"value":""}}},
 {"width":70,"height":64,"data":{"name":"logo"},
  "transform":[{"filter":"datum.p==='bV'"},{"stack":"h","groupby":["x"],"sort":[{"field":"h","order":"ascending"}],"as":["y0","y1"]},{"calculate":"(datum.y0+datum.y1)/2","as":"ym"},{"calculate":"datum.y1-0.15*(datum.y1-datum.y0)","as":"tb"}],
  "encoding":{"x":{"field":"x","type":"quantitative","scale":{"domain":[45.8,51.4],"nice":false,"zero":false},"axis":{"values":[50],"format":"d","title":"WebLogo 3.5.0"}}},
  "layer":[
   {"transform":[{"filter":"isValid(datum.e)"}],"mark":{"type":"rule","color":"#c4c4c4"},"encoding":{"y":{"field":"y1","type":"quantitative","scale":{"domain":[0,2],"nice":false},"axis":{"values":[0,1,2],"format":".1f","title":"bits"}},"y2":{"field":"e"}}},
   {"transform":[{"filter":"isValid(datum.e)"}],"mark":{"type":"tick","orient":"horizontal","color":"#c4c4c4","size":4,"thickness":1},"encoding":{"y":{"field":"e","type":"quantitative","scale":{"domain":[0,2],"nice":false},"axis":{"values":[0,1,2],"format":".1f","title":"bits"}}}},
   {"transform":[{"filter":"datum.b!=='T'"}],"mark":{"type":"bar","size":11,"cornerRadius":4},"encoding":{"y":{"field":"y0","type":"quantitative","scale":{"domain":[0,2],"nice":false},"axis":{"values":[0,1,2],"format":".1f","title":"bits"}},"y2":{"field":"y1"},"color":{"field":"b","type":"nominal","scale":{"domain":["A","C","G"],"range":["#f4941f","#3a4ea6","#3a4ea6"]},"legend":null}}},
   {"transform":[{"filter":"datum.b==='T'"}],"mark":{"type":"bar","size":4,"color":"#f4941f"},"encoding":{"y":{"field":"y0","type":"quantitative","scale":{"domain":[0,2],"nice":false},"axis":{"values":[0,1,2],"format":".1f","title":"bits"}},"y2":{"field":"y1"}}},
   {"transform":[{"filter":"datum.b==='T'"}],"mark":{"type":"bar","size":11,"color":"#f4941f"},"encoding":{"y":{"field":"tb","type":"quantitative","scale":{"domain":[0,2],"nice":false},"axis":{"values":[0,1,2],"format":".1f","title":"bits"}},"y2":{"field":"y1"}}},
   {"transform":[{"filter":"datum.h>=0.3 && datum.b!=='T'"}],"mark":{"type":"text","color":"white","fontSize":9,"fontWeight":"bold","font":"Liberation Sans"},"encoding":{"y":{"field":"ym","type":"quantitative","scale":{"domain":[0,2],"nice":false},"axis":{"values":[0,1,2],"format":".1f","title":"bits"}},"text":{"field":"b"}}}
  ]},
 {"width":41,"height":64,"data":{"values":[{"t":"V"}]},"mark":{"type":"text","font":"Lato","fontSize":21,"dy":3.5},"encoding":{"text":{"field":"t"}}}
]},
{"spacing":0,"bounds":"flush","hconcat":[
 {"width":324,"height":29,"data":{"values":[{"t":"17-nt microhelices"}]},"mark":{"type":"text","font":"Lato","fontSize":19.5,"dy":4.5},"encoding":{"text":{"field":"t"}}},
 {"width":66,"height":1,"data":{"values":[{}]},"mark":"text","encoding":{"text":{"value":""}}},
 {"width":258,"height":29,"data":{"values":[{"t":"17-nt microhelices"}]},"mark":{"type":"text","font":"Lato","fontSize":19.5,"dy":4.5},"encoding":{"text":{"field":"t"}}}
]},
{"spacing":0,"bounds":"flush","hconcat":[
 {"width":60,"height":85,"data":{"values":[{}]},"mark":"text","encoding":{"text":{"value":""}}},
 {"width":218,"height":64,"data":{"name":"logo"},
  "transform":[{"filter":"datum.p==='aMD'"},{"stack":"h","groupby":["x"],"sort":[{"field":"h","order":"ascending"}],"as":["y0","y1"]},{"calculate":"(datum.y0+datum.y1)/2","as":"ym"},{"calculate":"datum.y1-0.15*(datum.y1-datum.y0)","as":"tb"}],
  "encoding":{"x":{"field":"x","type":"quantitative","scale":{"domain":[7.43,24.56],"nice":false,"zero":false},"axis":{"values":[10,15,20],"format":"d","title":"WebLogo 3.5.0"}}},
  "layer":[
   {"transform":[{"filter":"isValid(datum.e)"}],"mark":{"type":"rule","color":"#c4c4c4"},"encoding":{"y":{"field":"y1","type":"quantitative","scale":{"domain":[0,2],"nice":false},"axis":{"values":[0,1,2],"format":".1f","title":"bits"}},"y2":{"field":"e"}}},
   {"transform":[{"filter":"isValid(datum.e)"}],"mark":{"type":"tick","orient":"horizontal","color":"#c4c4c4","size":4,"thickness":1},"encoding":{"y":{"field":"e","type":"quantitative","scale":{"domain":[0,2],"nice":false},"axis":{"values":[0,1,2],"format":".1f","title":"bits"}}}},
   {"transform":[{"filter":"datum.b!=='T'"}],"mark":{"type":"bar","size":11.5,"cornerRadius":4},"encoding":{"y":{"field":"y0","type":"quantitative","scale":{"domain":[0,2],"nice":false},"axis":{"values":[0,1,2],"format":".1f","title":"bits"}},"y2":{"field":"y1"},"color":{"field":"b","type":"nominal","scale":{"domain":["A","C","G"],"range":["#f4941f","#3a4ea6","#3a4ea6"]},"legend":null}}},
   {"transform":[{"filter":"datum.b==='T'"}],"mark":{"type":"bar","size":4,"color":"#f4941f"},"encoding":{"y":{"field":"y0","type":"quantitative","scale":{"domain":[0,2],"nice":false},"axis":{"values":[0,1,2],"format":".1f","title":"bits"}},"y2":{"field":"y1"}}},
   {"transform":[{"filter":"datum.b==='T'"}],"mark":{"type":"bar","size":11.5,"color":"#f4941f"},"encoding":{"y":{"field":"tb","type":"quantitative","scale":{"domain":[0,2],"nice":false},"axis":{"values":[0,1,2],"format":".1f","title":"bits"}},"y2":{"field":"y1"}}},
   {"transform":[{"filter":"datum.h>=0.3 && datum.b!=='T'"}],"mark":{"type":"text","color":"white","fontSize":9,"fontWeight":"bold","font":"Liberation Sans"},"encoding":{"y":{"field":"ym","type":"quantitative","scale":{"domain":[0,2],"nice":false},"axis":{"values":[0,1,2],"format":".1f","title":"bits"}},"text":{"field":"b"}}}
  ]},
 {"width":33,"height":1,"data":{"values":[{}]},"mark":"text","encoding":{"text":{"value":""}}},
 {"width":40,"height":64,"data":{"values":[{"t":"D"}]},"mark":{"type":"text","font":"Lato","fontSize":21,"dy":5},"encoding":{"text":{"field":"t"}}},
 {"width":61,"height":1,"data":{"values":[{}]},"mark":"text","encoding":{"text":{"value":""}}},
 {"width":227,"height":64,"data":{"name":"logo"},
  "transform":[{"filter":"datum.p==='bMD'"},{"stack":"h","groupby":["x"],"sort":[{"field":"h","order":"ascending"}],"as":["y0","y1"]},{"calculate":"(datum.y0+datum.y1)/2","as":"ym"},{"calculate":"datum.y1-0.15*(datum.y1-datum.y0)","as":"tb"}],
  "encoding":{"x":{"field":"x","type":"quantitative","scale":{"domain":[7.53,25.08],"nice":false,"zero":false},"axis":{"values":[10,15,20],"format":"d","title":"WebLogo 3.5.0"}}},
  "layer":[
   {"transform":[{"filter":"isValid(datum.e)"}],"mark":{"type":"rule","color":"#c4c4c4"},"encoding":{"y":{"field":"y1","type":"quantitative","scale":{"domain":[0,2],"nice":false},"axis":{"values":[0,1,2],"format":".1f","title":"bits"}},"y2":{"field":"e"}}},
   {"transform":[{"filter":"isValid(datum.e)"}],"mark":{"type":"tick","orient":"horizontal","color":"#c4c4c4","size":4,"thickness":1},"encoding":{"y":{"field":"e","type":"quantitative","scale":{"domain":[0,2],"nice":false},"axis":{"values":[0,1,2],"format":".1f","title":"bits"}}}},
   {"transform":[{"filter":"datum.b!=='T'"}],"mark":{"type":"bar","size":11.5,"cornerRadius":4},"encoding":{"y":{"field":"y0","type":"quantitative","scale":{"domain":[0,2],"nice":false},"axis":{"values":[0,1,2],"format":".1f","title":"bits"}},"y2":{"field":"y1"},"color":{"field":"b","type":"nominal","scale":{"domain":["A","C","G"],"range":["#f4941f","#3a4ea6","#3a4ea6"]},"legend":null}}},
   {"transform":[{"filter":"datum.b==='T'"}],"mark":{"type":"bar","size":4,"color":"#f4941f"},"encoding":{"y":{"field":"y0","type":"quantitative","scale":{"domain":[0,2],"nice":false},"axis":{"values":[0,1,2],"format":".1f","title":"bits"}},"y2":{"field":"y1"}}},
   {"transform":[{"filter":"datum.b==='T'"}],"mark":{"type":"bar","size":11.5,"color":"#f4941f"},"encoding":{"y":{"field":"tb","type":"quantitative","scale":{"domain":[0,2],"nice":false},"axis":{"values":[0,1,2],"format":".1f","title":"bits"}},"y2":{"field":"y1"}}},
   {"transform":[{"filter":"datum.h>=0.3 && datum.b!=='T'"}],"mark":{"type":"text","color":"white","fontSize":9,"fontWeight":"bold","font":"Liberation Sans"},"encoding":{"y":{"field":"ym","type":"quantitative","scale":{"domain":[0,2],"nice":false},"axis":{"values":[0,1,2],"format":".1f","title":"bits"}},"text":{"field":"b"}}}
  ]}
]},
{"spacing":0,"bounds":"flush","hconcat":[
 {"width":60,"height":85,"data":{"values":[{}]},"mark":"text","encoding":{"text":{"value":""}}},
 {"width":218,"height":64,"data":{"name":"logo"},
  "transform":[{"filter":"datum.p==='aMA'"},{"stack":"h","groupby":["x"],"sort":[{"field":"h","order":"ascending"}],"as":["y0","y1"]},{"calculate":"(datum.y0+datum.y1)/2","as":"ym"},{"calculate":"datum.y1-0.15*(datum.y1-datum.y0)","as":"tb"}],
  "encoding":{"x":{"field":"x","type":"quantitative","scale":{"domain":[29.48,46.5],"nice":false,"zero":false},"axis":{"values":[30,35,40,45],"format":"d","title":"WebLogo 3.5.0"}}},
  "layer":[
   {"transform":[{"filter":"isValid(datum.e)"}],"mark":{"type":"rule","color":"#c4c4c4"},"encoding":{"y":{"field":"y1","type":"quantitative","scale":{"domain":[0,2],"nice":false},"axis":{"values":[0,1,2],"format":".1f","title":"bits"}},"y2":{"field":"e"}}},
   {"transform":[{"filter":"isValid(datum.e)"}],"mark":{"type":"tick","orient":"horizontal","color":"#c4c4c4","size":4,"thickness":1},"encoding":{"y":{"field":"e","type":"quantitative","scale":{"domain":[0,2],"nice":false},"axis":{"values":[0,1,2],"format":".1f","title":"bits"}}}},
   {"transform":[{"filter":"datum.b!=='T'"}],"mark":{"type":"bar","size":11.5,"cornerRadius":4},"encoding":{"y":{"field":"y0","type":"quantitative","scale":{"domain":[0,2],"nice":false},"axis":{"values":[0,1,2],"format":".1f","title":"bits"}},"y2":{"field":"y1"},"color":{"field":"b","type":"nominal","scale":{"domain":["A","C","G"],"range":["#f4941f","#3a4ea6","#3a4ea6"]},"legend":null}}},
   {"transform":[{"filter":"datum.b==='T'"}],"mark":{"type":"bar","size":4,"color":"#f4941f"},"encoding":{"y":{"field":"y0","type":"quantitative","scale":{"domain":[0,2],"nice":false},"axis":{"values":[0,1,2],"format":".1f","title":"bits"}},"y2":{"field":"y1"}}},
   {"transform":[{"filter":"datum.b==='T'"}],"mark":{"type":"bar","size":11.5,"color":"#f4941f"},"encoding":{"y":{"field":"tb","type":"quantitative","scale":{"domain":[0,2],"nice":false},"axis":{"values":[0,1,2],"format":".1f","title":"bits"}},"y2":{"field":"y1"}}},
   {"transform":[{"filter":"datum.h>=0.3 && datum.b!=='T'"}],"mark":{"type":"text","color":"white","fontSize":9,"fontWeight":"bold","font":"Liberation Sans"},"encoding":{"y":{"field":"ym","type":"quantitative","scale":{"domain":[0,2],"nice":false},"axis":{"values":[0,1,2],"format":".1f","title":"bits"}},"text":{"field":"b"}}}
  ]},
 {"width":38,"height":1,"data":{"values":[{}]},"mark":"text","encoding":{"text":{"value":""}}},
 {"width":40,"height":64,"data":{"values":[{"t":"Ac"}]},"mark":{"type":"text","font":"Lato","fontSize":21,"dy":8.5},"encoding":{"text":{"field":"t"}}},
 {"width":56,"height":1,"data":{"values":[{}]},"mark":"text","encoding":{"text":{"value":""}}},
 {"width":219,"height":64,"data":{"name":"logo"},
  "transform":[{"filter":"datum.p==='bMA'"},{"stack":"h","groupby":["x"],"sort":[{"field":"h","order":"ascending"}],"as":["y0","y1"]},{"calculate":"(datum.y0+datum.y1)/2","as":"ym"},{"calculate":"datum.y1-0.15*(datum.y1-datum.y0)","as":"tb"}],
  "encoding":{"x":{"field":"x","type":"quantitative","scale":{"domain":[29.4,46.5],"nice":false,"zero":false},"axis":{"values":[30,35,40,45],"format":"d","title":"WebLogo 3.5.0"}}},
  "layer":[
   {"transform":[{"filter":"isValid(datum.e)"}],"mark":{"type":"rule","color":"#c4c4c4"},"encoding":{"y":{"field":"y1","type":"quantitative","scale":{"domain":[0,2],"nice":false},"axis":{"values":[0,1,2],"format":".1f","title":"bits"}},"y2":{"field":"e"}}},
   {"transform":[{"filter":"isValid(datum.e)"}],"mark":{"type":"tick","orient":"horizontal","color":"#c4c4c4","size":4,"thickness":1},"encoding":{"y":{"field":"e","type":"quantitative","scale":{"domain":[0,2],"nice":false},"axis":{"values":[0,1,2],"format":".1f","title":"bits"}}}},
   {"transform":[{"filter":"datum.b!=='T'"}],"mark":{"type":"bar","size":11.5,"cornerRadius":4},"encoding":{"y":{"field":"y0","type":"quantitative","scale":{"domain":[0,2],"nice":false},"axis":{"values":[0,1,2],"format":".1f","title":"bits"}},"y2":{"field":"y1"},"color":{"field":"b","type":"nominal","scale":{"domain":["A","C","G"],"range":["#f4941f","#3a4ea6","#3a4ea6"]},"legend":null}}},
   {"transform":[{"filter":"datum.b==='T'"}],"mark":{"type":"bar","size":4,"color":"#f4941f"},"encoding":{"y":{"field":"y0","type":"quantitative","scale":{"domain":[0,2],"nice":false},"axis":{"values":[0,1,2],"format":".1f","title":"bits"}},"y2":{"field":"y1"}}},
   {"transform":[{"filter":"datum.b==='T'"}],"mark":{"type":"bar","size":11.5,"color":"#f4941f"},"encoding":{"y":{"field":"tb","type":"quantitative","scale":{"domain":[0,2],"nice":false},"axis":{"values":[0,1,2],"format":".1f","title":"bits"}},"y2":{"field":"y1"}}},
   {"transform":[{"filter":"datum.h>=0.3 && datum.b!=='T'"}],"mark":{"type":"text","color":"white","fontSize":9,"fontWeight":"bold","font":"Liberation Sans"},"encoding":{"y":{"field":"ym","type":"quantitative","scale":{"domain":[0,2],"nice":false},"axis":{"values":[0,1,2],"format":".1f","title":"bits"}},"text":{"field":"b"}}}
  ]}
]},
{"spacing":0,"bounds":"flush","hconcat":[
 {"width":60,"height":86,"data":{"values":[{}]},"mark":"text","encoding":{"text":{"value":""}}},
 {"width":218,"height":64,"data":{"name":"logo"},
  "transform":[{"filter":"datum.p==='aMT'"},{"stack":"h","groupby":["x"],"sort":[{"field":"h","order":"ascending"}],"as":["y0","y1"]},{"calculate":"(datum.y0+datum.y1)/2","as":"ym"},{"calculate":"datum.y1-0.15*(datum.y1-datum.y0)","as":"tb"}],
  "encoding":{"x":{"field":"x","type":"quantitative","scale":{"domain":[51.45,68.4],"nice":false,"zero":false},"axis":{"values":[55,60,65],"format":"d","title":"WebLogo 3.5.0"}}},
  "layer":[
   {"transform":[{"filter":"isValid(datum.e)"}],"mark":{"type":"rule","color":"#c4c4c4"},"encoding":{"y":{"field":"y1","type":"quantitative","scale":{"domain":[0,2],"nice":false},"axis":{"values":[0,1,2],"format":".1f","title":"bits"}},"y2":{"field":"e"}}},
   {"transform":[{"filter":"isValid(datum.e)"}],"mark":{"type":"tick","orient":"horizontal","color":"#c4c4c4","size":4,"thickness":1},"encoding":{"y":{"field":"e","type":"quantitative","scale":{"domain":[0,2],"nice":false},"axis":{"values":[0,1,2],"format":".1f","title":"bits"}}}},
   {"transform":[{"filter":"datum.b!=='T'"}],"mark":{"type":"bar","size":11.5,"cornerRadius":4},"encoding":{"y":{"field":"y0","type":"quantitative","scale":{"domain":[0,2],"nice":false},"axis":{"values":[0,1,2],"format":".1f","title":"bits"}},"y2":{"field":"y1"},"color":{"field":"b","type":"nominal","scale":{"domain":["A","C","G"],"range":["#f4941f","#3a4ea6","#3a4ea6"]},"legend":null}}},
   {"transform":[{"filter":"datum.b==='T'"}],"mark":{"type":"bar","size":4,"color":"#f4941f"},"encoding":{"y":{"field":"y0","type":"quantitative","scale":{"domain":[0,2],"nice":false},"axis":{"values":[0,1,2],"format":".1f","title":"bits"}},"y2":{"field":"y1"}}},
   {"transform":[{"filter":"datum.b==='T'"}],"mark":{"type":"bar","size":11.5,"color":"#f4941f"},"encoding":{"y":{"field":"tb","type":"quantitative","scale":{"domain":[0,2],"nice":false},"axis":{"values":[0,1,2],"format":".1f","title":"bits"}},"y2":{"field":"y1"}}},
   {"transform":[{"filter":"datum.h>=0.3 && datum.b!=='T'"}],"mark":{"type":"text","color":"white","fontSize":9,"fontWeight":"bold","font":"Liberation Sans"},"encoding":{"y":{"field":"ym","type":"quantitative","scale":{"domain":[0,2],"nice":false},"axis":{"values":[0,1,2],"format":".1f","title":"bits"}},"text":{"field":"b"}}}
  ]},
 {"width":39,"height":1,"data":{"values":[{}]},"mark":"text","encoding":{"text":{"value":""}}},
 {"width":40,"height":64,"data":{"values":[{"t":"T"}]},"mark":{"type":"text","font":"Lato","fontSize":21,"dy":11},"encoding":{"text":{"field":"t"}}},
 {"width":55,"height":1,"data":{"values":[{}]},"mark":"text","encoding":{"text":{"value":""}}},
 {"width":221,"height":64,"data":{"name":"logo"},
  "transform":[{"filter":"datum.p==='bMT'"},{"stack":"h","groupby":["x"],"sort":[{"field":"h","order":"ascending"}],"as":["y0","y1"]},{"calculate":"(datum.y0+datum.y1)/2","as":"ym"},{"calculate":"datum.y1-0.15*(datum.y1-datum.y0)","as":"tb"}],
  "encoding":{"x":{"field":"x","type":"quantitative","scale":{"domain":[51.2,68.65],"nice":false,"zero":false},"axis":{"values":[55,60,65],"format":"d","title":"WebLogo 3.5.0"}}},
  "layer":[
   {"transform":[{"filter":"isValid(datum.e)"}],"mark":{"type":"rule","color":"#c4c4c4"},"encoding":{"y":{"field":"y1","type":"quantitative","scale":{"domain":[0,2],"nice":false},"axis":{"values":[0,1,2],"format":".1f","title":"bits"}},"y2":{"field":"e"}}},
   {"transform":[{"filter":"isValid(datum.e)"}],"mark":{"type":"tick","orient":"horizontal","color":"#c4c4c4","size":4,"thickness":1},"encoding":{"y":{"field":"e","type":"quantitative","scale":{"domain":[0,2],"nice":false},"axis":{"values":[0,1,2],"format":".1f","title":"bits"}}}},
   {"transform":[{"filter":"datum.b!=='T'"}],"mark":{"type":"bar","size":11.5,"cornerRadius":4},"encoding":{"y":{"field":"y0","type":"quantitative","scale":{"domain":[0,2],"nice":false},"axis":{"values":[0,1,2],"format":".1f","title":"bits"}},"y2":{"field":"y1"},"color":{"field":"b","type":"nominal","scale":{"domain":["A","C","G"],"range":["#f4941f","#3a4ea6","#3a4ea6"]},"legend":null}}},
   {"transform":[{"filter":"datum.b==='T'"}],"mark":{"type":"bar","size":4,"color":"#f4941f"},"encoding":{"y":{"field":"y0","type":"quantitative","scale":{"domain":[0,2],"nice":false},"axis":{"values":[0,1,2],"format":".1f","title":"bits"}},"y2":{"field":"y1"}}},
   {"transform":[{"filter":"datum.b==='T'"}],"mark":{"type":"bar","size":11.5,"color":"#f4941f"},"encoding":{"y":{"field":"tb","type":"quantitative","scale":{"domain":[0,2],"nice":false},"axis":{"values":[0,1,2],"format":".1f","title":"bits"}},"y2":{"field":"y1"}}},
   {"transform":[{"filter":"datum.h>=0.3 && datum.b!=='T'"}],"mark":{"type":"text","color":"white","fontSize":9,"fontWeight":"bold","font":"Liberation Sans"},"encoding":{"y":{"field":"ym","type":"quantitative","scale":{"domain":[0,2],"nice":false},"axis":{"values":[0,1,2],"format":".1f","title":"bits"}},"text":{"field":"b"}}}
  ]}
]},
{"spacing":0,"bounds":"flush","hconcat":[
 {"width":320,"height":55,"data":{"values":[{"t":["Archaea","24 GCC Gly tRNAs"]}]},"mark":{"type":"text","font":"Lato","fontSize":19,"lineHeight":25,"dy":-18},"encoding":{"text":{"field":"t"}}},
 {"width":88,"height":1,"data":{"values":[{}]},"mark":"text","encoding":{"text":{"value":""}}},
 {"width":240,"height":55,"data":{"values":[{"t":["Bacteria","195 GCC Gly tRNAs"]}]},"mark":{"type":"text","font":"Lato","fontSize":19,"lineHeight":25,"dy":-18},"encoding":{"text":{"field":"t"}}}
]}
]
}
